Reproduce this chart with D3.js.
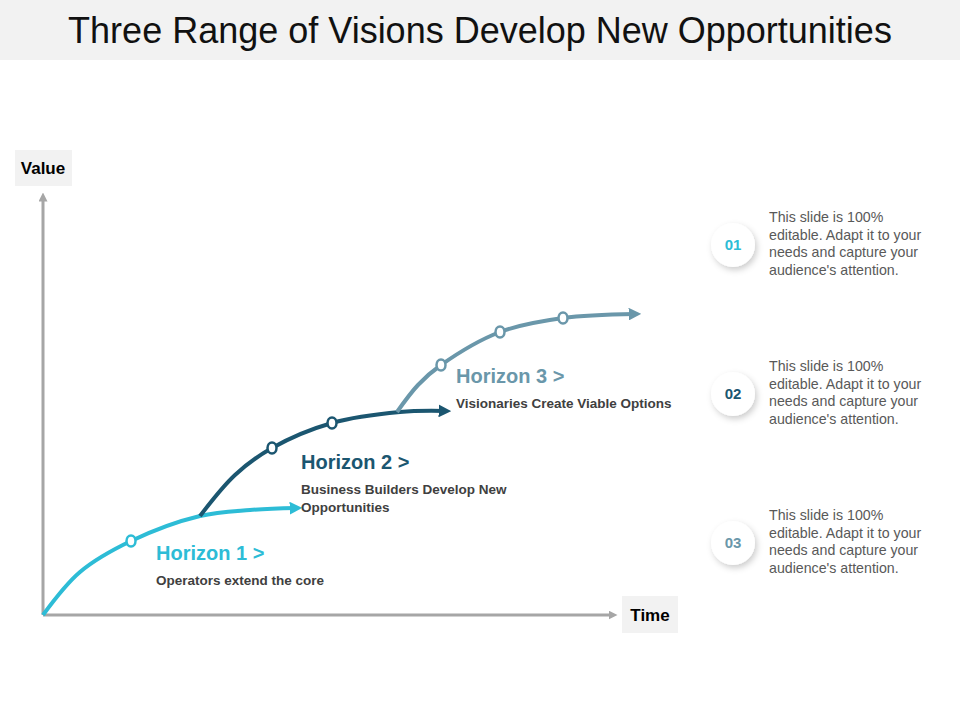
<!DOCTYPE html>
<html><head><meta charset="utf-8">
<script src="https://cdn.jsdelivr.net/npm/d3@7"></script>
<style>body{margin:0;background:#fff}svg{display:block;font-family:Arial,"Liberation Sans",sans-serif}</style>
</head><body><svg id="c" width="960" height="720"></svg>
<script>
const title = "Three Range of Visions Develop New Opportunities";
const horizonNames = ["Horizon 1 >","Horizon 2 >","Horizon 3 >"];
const horizonSubs = [["Operators extend the core"],["Business Builders Develop New","Opportunities"],["Visionaries Create Viable Options"]];
const colors = ["#2dbcd6","#1b5670","#6a97aa"];
// curve points [time, value]
const curve1 = [[0,0],[37,43],[88,74],[157,99],[207,105],[253,107]];
const curve2 = [[157,99],[192,140],[229,167],[289,192],[357,203],[402,204]];
const curve3 = [[354,203],[375,230],[398,250],[457,283],[520,297],[592,301]];
const markers = [[[88,74]],[[229,167],[289,192]],[[398,250],[457,283],[520,297]]];
const labelPos = [[113,55],[258,146],[413,232]];
const numbers = ["01","02","03"];
const noteText = ["This slide is 100%","editable. Adapt it to your","needs and capture your","audience's attention."];

const svg = d3.select("#c");
const x = d3.scaleLinear().domain([0,577]).range([43,620]);
const y = d3.scaleLinear().domain([0,425]).range([615,190]);
const defs = svg.append("defs");
colors.concat(["#a6a6a6"]).forEach((c,i)=>{
  defs.append("marker").attr("id","ar"+i).attr("viewBox","0 0 10 10").attr("refX",5).attr("refY",5)
   .attr("markerWidth",i==3?3:3.2).attr("markerHeight",i==3?3:3.2).attr("orient","auto")
   .append("path").attr("d","M0,0L10,5L0,10z").attr("fill",c);
});
const f = defs.append("filter").attr("id","sh").attr("x","-50%").attr("y","-50%").attr("width","200%").attr("height","200%");
f.append("feDropShadow").attr("dx",2).attr("dy",3).attr("stdDeviation",3).attr("flood-color","#000").attr("flood-opacity",0.2);

svg.append("rect").attr("x",0).attr("y",0).attr("width",960).attr("height",60).attr("fill","#f2f2f2");
svg.append("text").attr("x",480).attr("y",43).attr("text-anchor","middle").attr("font-size",36).attr("fill","#111").text(title);

svg.append("line").attr("x1",x(0)).attr("y1",y(0)).attr("x2",x(0)).attr("y2",y(0)-418).attr("stroke","#a6a6a6").attr("stroke-width",3).attr("marker-end","url(#ar3)");
svg.append("line").attr("x1",x(0)).attr("y1",y(0)).attr("x2",x(0)+570).attr("y2",y(0)).attr("stroke","#a6a6a6").attr("stroke-width",3).attr("marker-end","url(#ar3)");
svg.append("rect").attr("x",15).attr("y",150).attr("width",57).attr("height",36).attr("fill","#f2f2f2");
svg.append("text").attr("x",43).attr("y",174).attr("text-anchor","middle").attr("font-size",17).attr("font-weight","bold").text("Value");
svg.append("rect").attr("x",622).attr("y",596).attr("width",56).attr("height",37).attr("fill","#f2f2f2");
svg.append("text").attr("x",650).attr("y",621).attr("text-anchor","middle").attr("font-size",17).attr("font-weight","bold").text("Time");

const line = d3.line().x(d=>x(d[0])).y(d=>y(d[1])).curve(d3.curveCatmullRom);
[curve1,curve2,curve3].forEach((cv,i)=>{
  svg.append("path").attr("d",line(cv)).attr("fill","none").attr("stroke",colors[i]).attr("stroke-width",4).attr("marker-end",`url(#ar${i})`);
  markers[i].forEach(m=>svg.append("ellipse").attr("cx",x(m[0])).attr("cy",y(m[1])).attr("rx",4.5).attr("ry",5.5).attr("fill","#fff").attr("stroke",colors[i]).attr("stroke-width",2.5));
  const lp = labelPos[i];
  svg.append("text").attr("x",x(lp[0])).attr("y",y(lp[1])).attr("font-size",20).attr("font-weight","bold").attr("fill",colors[i]).text(horizonNames[i]);
  horizonSubs[i].forEach((s,j)=>svg.append("text").attr("x",x(lp[0])).attr("y",y(lp[1])+25+j*18).attr("font-size",13.5).attr("font-weight","bold").attr("fill","#404040").text(s));
});

numbers.forEach((n,i)=>{
  const cy = 245+i*149;
  svg.append("circle").attr("cx",733).attr("cy",cy).attr("r",22).attr("fill","#fff").attr("filter","url(#sh)");
  svg.append("text").attr("x",733).attr("y",cy+5).attr("text-anchor","middle").attr("font-size",15).attr("font-weight","bold").attr("fill",colors[i]).text(n);
  noteText.forEach((t,j)=>svg.append("text").attr("x",769).attr("y",cy-23+j*17.5).attr("font-size",14.2).attr("fill","#595959").text(t));
});
</script></body></html>
